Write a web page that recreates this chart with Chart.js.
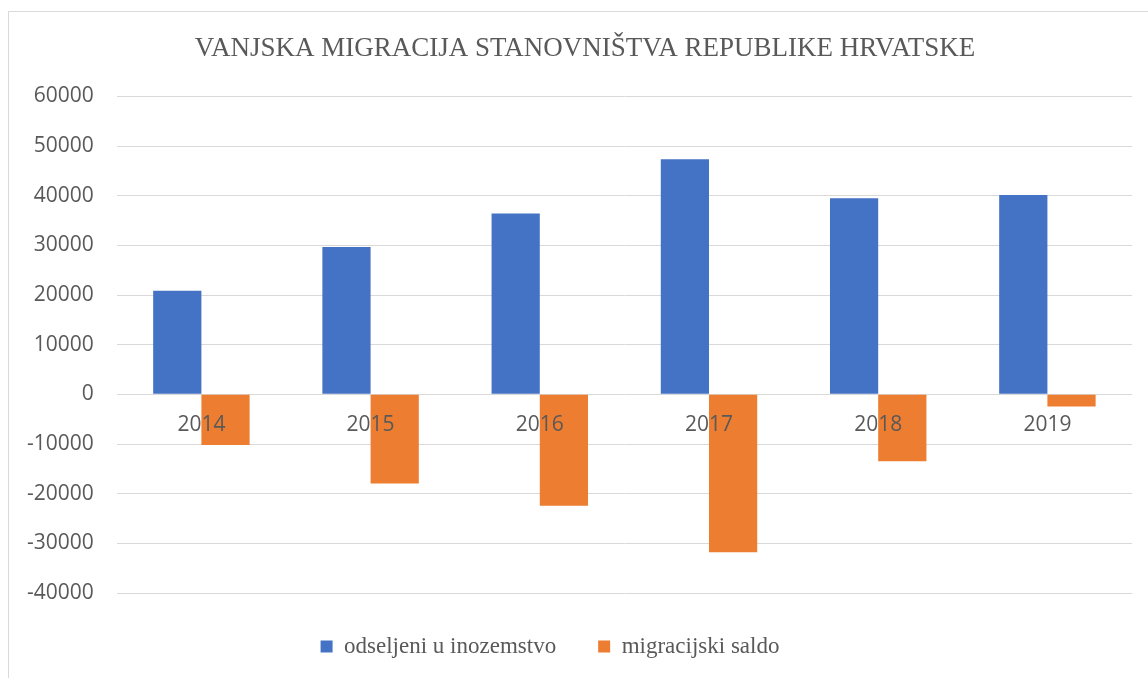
<!DOCTYPE html>
<html>
<head>
<meta charset="utf-8">
<script src="https://cdn.jsdelivr.net/npm/chart.js@4/dist/chart.umd.min.js"></script>
<style>
  html, body { margin: 0; padding: 0; background: #fff; overflow: hidden; width: 1148px; height: 678px; }
  .frame { position: absolute; left: 8px; top: 11px; width: 1200px; height: 800px; border: 1px solid #d9d9d9; box-sizing: border-box; }
  .wrap { position: absolute; left: 4px; top: 11px; width: 1158px; height: 667px; }
</style>
</head>
<body>
<div class="frame"></div>
<div class="wrap"><canvas id="migChart"></canvas></div>
<script>
const years = ['2014', '2015', '2016', '2017', '2018', '2019'];
const emigrated = [20858, 29651, 36436, 47352, 39515, 40148];
const netMigration = [-10220, -17945, -22451, -31799, -13486, -2422];
const seriesNames = ['odseljeni u inozemstvo', 'migracijski saldo'];
const chartTitle = 'VANJSKA MIGRACIJA STANOVNIŠTVA REPUBLIKE HRVATSKE';

const textGrey = '#595959';
const gridGrey = '#d9d9d9';

// title sits a bit right and the legend a bit left in the original sheet
const nudge = {
  id: 'nudge',
  afterLayout(chart) {
    chart.titleBlock.left += 17;
    chart.titleBlock.right += 17;
    chart.legend.left -= 18;
    chart.legend.right -= 18;
  }
};

const ctx = document.querySelector('#migChart').getContext('2d');

new Chart(ctx, {
  type: 'bar',
  data: {
    labels: years,
    datasets: [
      {
        label: seriesNames[0],
        data: emigrated,
        backgroundColor: '#4472C4'
      },
      {
        label: seriesNames[1],
        data: netMigration,
        backgroundColor: '#ED7D31'
      }
    ]
  },
  options: {
    responsive: true,
    maintainAspectRatio: false,
    animation: false,
    datasets: {
      bar: { categoryPercentage: 0.57, barPercentage: 1 }
    },
    layout: {
      padding: { left: 0, right: 30, top: 10, bottom: 10 }
    },
    scales: {
      x: {
        position: { y: 0 },
        grid: { display: false },
        border: { display: false },
        ticks: {
          z: 1, // years sit on top of the bars
          color: textGrey,
          font: { family: 'Open Sans', size: 21 },
          padding: 10
        }
      },
      y: {
        min: -40000,
        max: 60000,
        grid: { color: gridGrey, lineWidth: 1, drawTicks: false },
        border: { display: false },
        ticks: {
          stepSize: 10000,
          color: textGrey,
          font: { family: 'Open Sans', size: 21 },
          padding: 23,
          callback: v => String(v)
        }
      }
    },
    plugins: {
      title: {
        display: true,
        text: chartTitle,
        color: textGrey,
        font: { family: 'Liberation Serif', size: 27, weight: 'normal' },
        padding: { top: 12, bottom: 31 }
      },
      legend: {
        position: 'bottom',
        labels: {
          color: textGrey,
          font: { family: 'Liberation Serif', size: 23 },
          boxWidth: 12,
          boxHeight: 12,
          padding: 42
        }
      },
      tooltip: { enabled: false }
    }
  },
  plugins: [nudge]
});
</script>
</body>
</html>
